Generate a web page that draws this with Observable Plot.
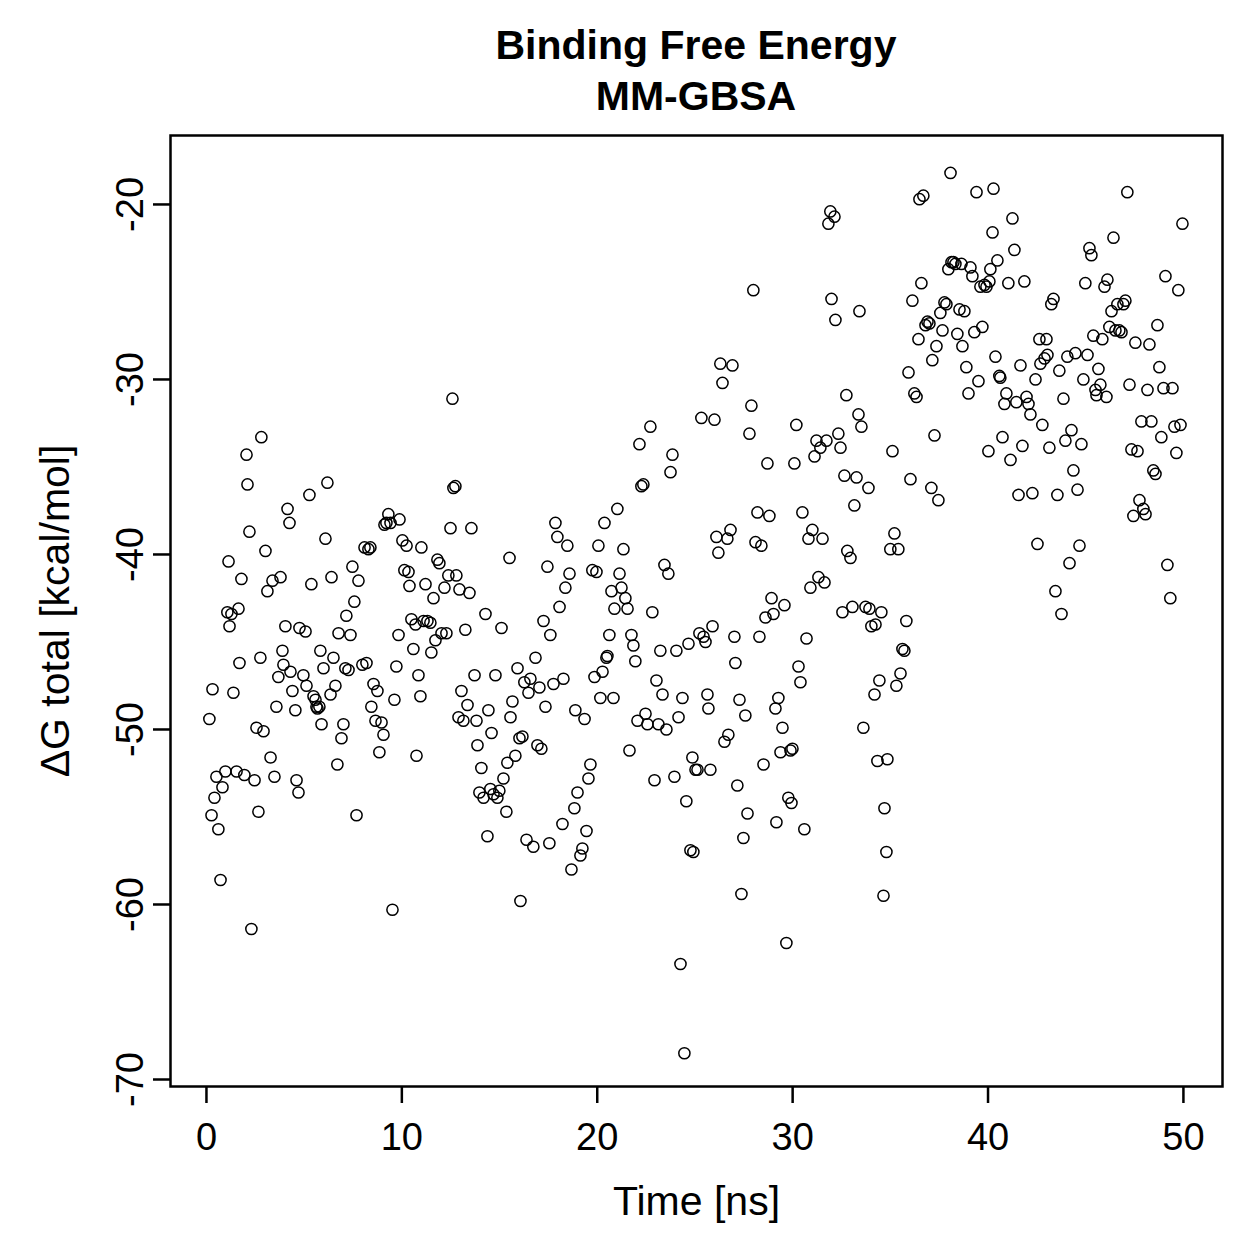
<!DOCTYPE html>
<html>
<head>
<meta charset="utf-8">
<script src="https://cdn.jsdelivr.net/npm/d3@7"></script>
<script src="https://cdn.jsdelivr.net/npm/@observablehq/plot@0.6"></script>
<style>
  html, body { margin: 0; padding: 0; background: #fff; }
  #wrap { width: 1259px; }
  #title {
    box-sizing: border-box; height: 120px; padding: 20px 37px 0 170px;
    text-align: center; font-family: "Liberation Sans", Arial, Helvetica, sans-serif;
    font-weight: bold; font-size: 41px; line-height: 51px; color: #000;
  }
  svg { display: block; }
</style>
</head>
<body>
<div id="wrap">
  <div id="title"><div>Binding Free Energy</div><div>MM-GBSA</div></div>
  <div id="chart"></div>
</div>
<script>
const titleLines = ["Binding Free Energy", "MM-GBSA"];
const xLabel = "Time [ns]";
const yLabel = "ΔG total [kcal/mol]";
const xTicks = [0, 10, 20, 30, 40, 50];
const yTicks = [-20, -30, -40, -50, -60, -70];

// [time (ns), ΔG total (kcal/mol)], by 10-ns block
const block0 = [[0.15,-49.4],[0.26,-54.9],[0.31,-47.7],[0.41,-53.9],[0.51,-52.7],[0.61,-55.7],[0.72,-58.6],[0.82,-53.3],[0.97,-52.4],[1.07,-43.3],
[1.13,-40.4],[1.18,-44.1],[1.28,-43.4],[1.38,-47.9],[1.54,-52.4],[1.64,-43.1],[1.69,-46.2],[1.79,-41.4],[1.94,-52.6],[2.05,-34.3],
[2.10,-36.0],[2.20,-38.7],[2.30,-61.4],[2.46,-52.9],[2.56,-49.9],[2.66,-54.7],[2.76,-45.9],[2.81,-33.3],[2.92,-50.1],[3.02,-39.8],
[3.12,-42.1],[3.28,-51.6],[3.38,-41.5],[3.48,-52.7],[3.58,-48.7],[3.68,-47.0],[3.79,-41.3],[3.89,-45.5],[3.94,-46.3],[4.04,-44.1],
[4.15,-37.4],[4.25,-38.2],[4.30,-46.7],[4.40,-47.8],[4.55,-48.9],[4.61,-52.9],[4.71,-53.6],[4.76,-44.2],[4.96,-46.9],[5.07,-44.4],
[5.12,-47.5],[5.27,-36.6],[5.37,-41.7],[5.48,-48.1],[5.58,-48.3],[5.63,-48.7],[5.68,-48.8],[5.78,-48.7],[5.83,-45.5],[5.89,-49.7],
[5.99,-46.5],[6.09,-39.1],[6.19,-35.9],[6.35,-48.0],[6.40,-41.3],[6.50,-45.9],[6.60,-47.5],[6.70,-52.0],[6.76,-44.5],[6.91,-50.5],
[7.01,-49.7],[7.11,-46.5],[7.16,-43.5],[7.27,-46.6],[7.37,-44.6],[7.47,-40.7],[7.57,-42.7],[7.68,-54.9],[7.78,-41.5],[7.98,-46.3],
[8.09,-39.6],[8.19,-46.2],[8.29,-39.7],[8.39,-39.6],[8.44,-48.7],[8.55,-47.4],[8.65,-49.5],[8.75,-47.8],[8.85,-51.3],[8.96,-49.6],
[9.06,-50.3],[9.11,-38.3],[9.21,-38.2],[9.31,-37.7],[9.42,-38.2],[9.52,-60.3],[9.62,-48.3],[9.72,-46.4],[9.83,-44.6],[9.88,-38.0],
[10.03,-39.2],[10.13,-40.9],[10.24,-39.5],[10.34,-41.0]];

const block1 = [[10.39,-41.8],[10.49,-43.7],[10.59,-45.4],[10.70,-44.0],[10.75,-51.5],[10.85,-46.9],[10.95,-48.1],[11.00,-39.6],[11.11,-43.8],[11.21,-41.7],
[11.31,-43.8],[11.46,-43.9],[11.51,-45.6],[11.62,-42.5],[11.72,-44.9],[11.82,-40.3],[11.92,-40.5],[12.03,-44.5],[12.18,-41.9],[12.28,-44.5],
[12.38,-41.2],[12.49,-38.5],[12.59,-31.1],[12.64,-36.2],[12.74,-36.1],[12.79,-41.2],[12.90,-49.3],[12.95,-42.0],[13.05,-47.8],[13.15,-49.5],
[13.25,-44.3],[13.36,-48.6],[13.46,-42.2],[13.56,-38.5],[13.72,-46.9],[13.82,-49.5],[13.87,-50.9],[13.97,-53.6],[14.07,-52.2],[14.18,-53.9],
[14.28,-43.4],[14.38,-56.1],[14.43,-48.9],[14.53,-53.4],[14.59,-50.2],[14.69,-53.7],[14.79,-46.9],[14.89,-53.9],[14.99,-53.5],[15.10,-44.2],
[15.20,-52.8],[15.35,-54.7],[15.40,-51.9],[15.51,-40.2],[15.56,-49.3],[15.66,-48.4],[15.81,-51.5],[15.92,-46.5],[16.02,-50.5],[16.07,-59.8],
[16.17,-50.4],[16.27,-47.3],[16.38,-56.3],[16.48,-47.9],[16.58,-47.1],[16.73,-56.7],[16.84,-45.9],[16.94,-50.9],[17.04,-47.6],[17.14,-51.1],
[17.25,-43.8],[17.35,-48.7],[17.45,-40.7],[17.55,-56.5],[17.60,-44.6],[17.76,-47.4],[17.86,-38.2],[17.96,-39.0],[18.07,-43.0],[18.22,-55.4],
[18.27,-47.1],[18.37,-41.9],[18.47,-39.5],[18.58,-41.1],[18.68,-58.0],[18.83,-54.5],[18.88,-48.9],[18.99,-53.6],[19.14,-57.2],[19.24,-56.8],
[19.35,-49.4],[19.45,-55.8],[19.55,-52.8],[19.65,-52.0],[19.75,-40.9],[19.86,-47.0],[19.96,-41.0],[20.06,-39.5],[20.16,-48.2],[20.27,-46.7],
[20.37,-38.2]];

const block2 = [[20.47,-45.9],[20.52,-45.8],[20.62,-44.6],[20.73,-42.1],[20.83,-48.2],[20.88,-43.1],[21.03,-37.4],[21.14,-41.1],[21.24,-41.9],[21.34,-39.7],
[21.44,-42.5],[21.55,-43.1],[21.65,-51.2],[21.75,-44.6],[21.85,-45.2],[21.95,-46.1],[22.06,-49.5],[22.16,-33.7],[22.26,-36.1],[22.36,-36.0],
[22.47,-49.1],[22.57,-49.7],[22.72,-32.7],[22.82,-43.3],[22.93,-52.9],[23.03,-47.2],[23.13,-49.7],[23.23,-45.5],[23.34,-48.0],[23.44,-40.6],
[23.54,-50.0],[23.64,-41.1],[23.75,-35.3],[23.85,-34.3],[23.95,-52.7],[24.05,-45.5],[24.16,-49.3],[24.26,-63.4],[24.36,-48.2],[24.46,-68.5],
[24.56,-54.1],[24.67,-45.1],[24.77,-56.9],[24.87,-51.6],[24.92,-57.0],[25.03,-52.3],[25.13,-52.3],[25.23,-44.5],[25.33,-32.2],[25.44,-44.7],
[25.54,-45.0],[25.64,-48.0],[25.69,-48.8],[25.79,-52.3],[25.90,-44.1],[26.00,-32.3],[26.10,-39.0],[26.20,-39.9],[26.30,-29.1],[26.41,-30.2],
[26.51,-50.7],[26.66,-39.1],[26.71,-50.3],[26.82,-38.6],[26.92,-29.2],[27.02,-44.7],[27.07,-46.2],[27.17,-53.2],[27.28,-48.3],[27.38,-59.4],
[27.48,-56.2],[27.58,-49.2],[27.69,-54.8],[27.79,-33.1],[27.89,-31.5],[27.99,-24.9],[28.10,-39.3],[28.20,-37.6],[28.30,-44.7],[28.40,-39.5],
[28.51,-52.0],[28.61,-43.6],[28.71,-34.8],[28.81,-37.8],[28.92,-42.5],[29.02,-43.4],[29.12,-48.8],[29.17,-55.3],[29.27,-48.2],[29.38,-51.3],
[29.48,-49.9],[29.58,-42.9],[29.68,-62.2],[29.78,-53.9],[29.89,-51.2],[29.94,-54.2],[29.99,-51.1]];

const block3 = [[30.09,-34.8],[30.19,-32.6],[30.30,-46.4],[30.40,-47.3],[30.50,-37.6],[30.60,-55.7],[30.71,-44.8],[30.81,-39.1],[30.91,-41.9],[31.01,-38.6],
[31.12,-34.4],[31.22,-33.5],[31.32,-41.3],[31.42,-33.9],[31.53,-39.1],[31.63,-41.6],[31.73,-33.5],[31.83,-21.1],[31.93,-20.4],[31.99,-25.4],
[32.14,-20.7],[32.19,-26.6],[32.34,-33.1],[32.45,-33.9],[32.55,-43.3],[32.65,-35.5],[32.75,-30.9],[32.80,-39.8],[32.96,-40.2],[33.06,-43.0],
[33.16,-37.2],[33.27,-35.6],[33.37,-32.0],[33.42,-26.1],[33.52,-32.7],[33.62,-49.9],[33.73,-43.0],[33.88,-36.2],[33.93,-43.1],[34.03,-44.1],
[34.19,-48.0],[34.24,-44.0],[34.34,-51.8],[34.44,-47.2],[34.54,-43.3],[34.65,-59.5],[34.70,-54.5],[34.80,-57.0],[34.85,-51.7],[35.00,-39.7],
[35.11,-34.1],[35.21,-38.8],[35.31,-47.5],[35.41,-39.7],[35.52,-46.8],[35.62,-45.4],[35.72,-45.5],[35.82,-43.8],[35.93,-29.6],[36.03,-35.7],
[36.13,-25.5],[36.23,-30.8],[36.34,-31.0],[36.44,-27.7],[36.49,-19.7],[36.59,-24.5],[36.69,-19.5],[36.80,-26.9],[36.90,-26.7],[37.00,-26.8],
[37.10,-36.2],[37.15,-28.9],[37.26,-33.2],[37.36,-28.1],[37.46,-36.9],[37.56,-26.2],[37.67,-27.2],[37.77,-25.6],[37.87,-25.7],[37.97,-23.7],
[38.08,-18.2],[38.13,-23.3],[38.23,-23.3],[38.33,-23.4],[38.43,-27.4],[38.54,-26.0],[38.64,-23.4],[38.69,-28.1],[38.79,-26.1],[38.89,-29.3],
[39.00,-30.8],[39.10,-23.6],[39.20,-24.1],[39.30,-27.3],[39.41,-19.3],[39.51,-30.1],[39.61,-24.7],[39.71,-27.0],[39.82,-24.6],[39.92,-24.7],
[40.02,-34.1]];

const block4 = [[40.07,-24.4],[40.12,-23.7],[40.23,-21.6],[40.28,-19.1],[40.38,-28.7],[40.48,-23.2],[40.58,-29.8],[40.63,-29.9],[40.74,-33.3],[40.84,-31.4],
[40.94,-30.8],[41.04,-24.5],[41.15,-34.6],[41.25,-20.8],[41.35,-22.6],[41.45,-31.3],[41.56,-36.6],[41.66,-29.2],[41.76,-33.8],[41.86,-24.4],
[41.97,-31.0],[42.07,-31.4],[42.17,-32.0],[42.27,-36.5],[42.43,-30.0],[42.53,-39.4],[42.63,-27.7],[42.68,-29.1],[42.78,-32.6],[42.89,-28.8],
[42.99,-27.7],[43.04,-28.6],[43.14,-33.9],[43.24,-25.7],[43.35,-25.4],[43.45,-42.1],[43.55,-36.6],[43.65,-29.5],[43.76,-43.4],[43.86,-31.1],
[43.96,-33.5],[44.06,-28.7],[44.17,-40.5],[44.27,-32.9],[44.37,-35.2],[44.47,-28.5],[44.58,-36.3],[44.68,-39.5],[44.78,-33.7],[44.88,-30.0],
[44.98,-24.5],[45.09,-28.6],[45.19,-22.5],[45.29,-22.9],[45.39,-27.5],[45.50,-30.6],[45.55,-30.9],[45.65,-29.4],[45.75,-30.3],[45.85,-27.7],
[45.96,-24.7],[46.06,-31.0],[46.11,-24.3],[46.21,-27.0],[46.32,-26.1],[46.42,-21.9],[46.52,-27.2],[46.62,-25.7],[46.72,-27.2],[46.83,-27.3],
[46.93,-25.7],[47.03,-25.5],[47.13,-19.3],[47.24,-30.3],[47.34,-34.0],[47.44,-37.8],[47.54,-27.9],[47.65,-34.1],[47.75,-36.9],[47.85,-32.4],
[47.95,-37.4],[48.06,-37.7],[48.16,-30.6],[48.26,-28.0],[48.36,-32.4],[48.46,-35.2],[48.57,-35.4],[48.67,-26.9],[48.77,-29.3],[48.87,-33.3],
[48.98,-30.5],[49.08,-24.1],[49.18,-40.6],[49.33,-42.5],[49.44,-30.5],[49.54,-32.7],[49.64,-34.2],[49.74,-24.9],[49.85,-32.6],[49.95,-21.1]];

const points = [...block0, ...block1, ...block2, ...block3, ...block4].map(([t, g]) => ({t, g}));

const font = "Liberation Sans, Arial, Helvetica, sans-serif";
const tickFs = 38;
const labelFs = 41;

const chart = Plot.plot({
  width: 1259,
  height: 1139,
  marginTop: 15,
  marginLeft: 170,
  marginRight: 37,
  marginBottom: 53 + 120,
  style: {fontFamily: font, fontSize: tickFs + "px", color: "#000", background: "#fff"},
  x: {domain: [-1.84, 52.0]},
  y: {domain: [-70.4, -16.06]},
  marks: [
    Plot.dot(points, {x: "t", y: "g", r: 5.6, stroke: "#000", strokeWidth: 1.5, fill: "none"}),
    Plot.axisX(xTicks, {tickSize: 17, strokeWidth: 2.5, tickPadding: 20, fontSize: tickFs, tickFormat: d => String(d), label: null}),
    Plot.axisY(yTicks, {tickSize: 17, strokeWidth: 2.5, tickFormat: () => "", label: null}),
    Plot.text(yTicks, {y: d => d, frameAnchor: "left", dx: -40, rotate: -90, text: d => String(d),
      textAnchor: "middle", lineAnchor: "middle", fontSize: tickFs, fill: "#000"}),
    Plot.text([yLabel], {frameAnchor: "left", dx: -115, rotate: -90, text: d => d,
      textAnchor: "middle", lineAnchor: "middle", fontSize: labelFs, fill: "#000"}),
    Plot.text([xLabel], {frameAnchor: "bottom", dy: 115, text: d => d,
      textAnchor: "middle", lineAnchor: "middle", fontSize: labelFs, fill: "#000"}),
    Plot.frame({stroke: "#000", strokeWidth: 2.5})
  ]
});
document.getElementById("chart").appendChild(chart);
</script>
</body>
</html>
